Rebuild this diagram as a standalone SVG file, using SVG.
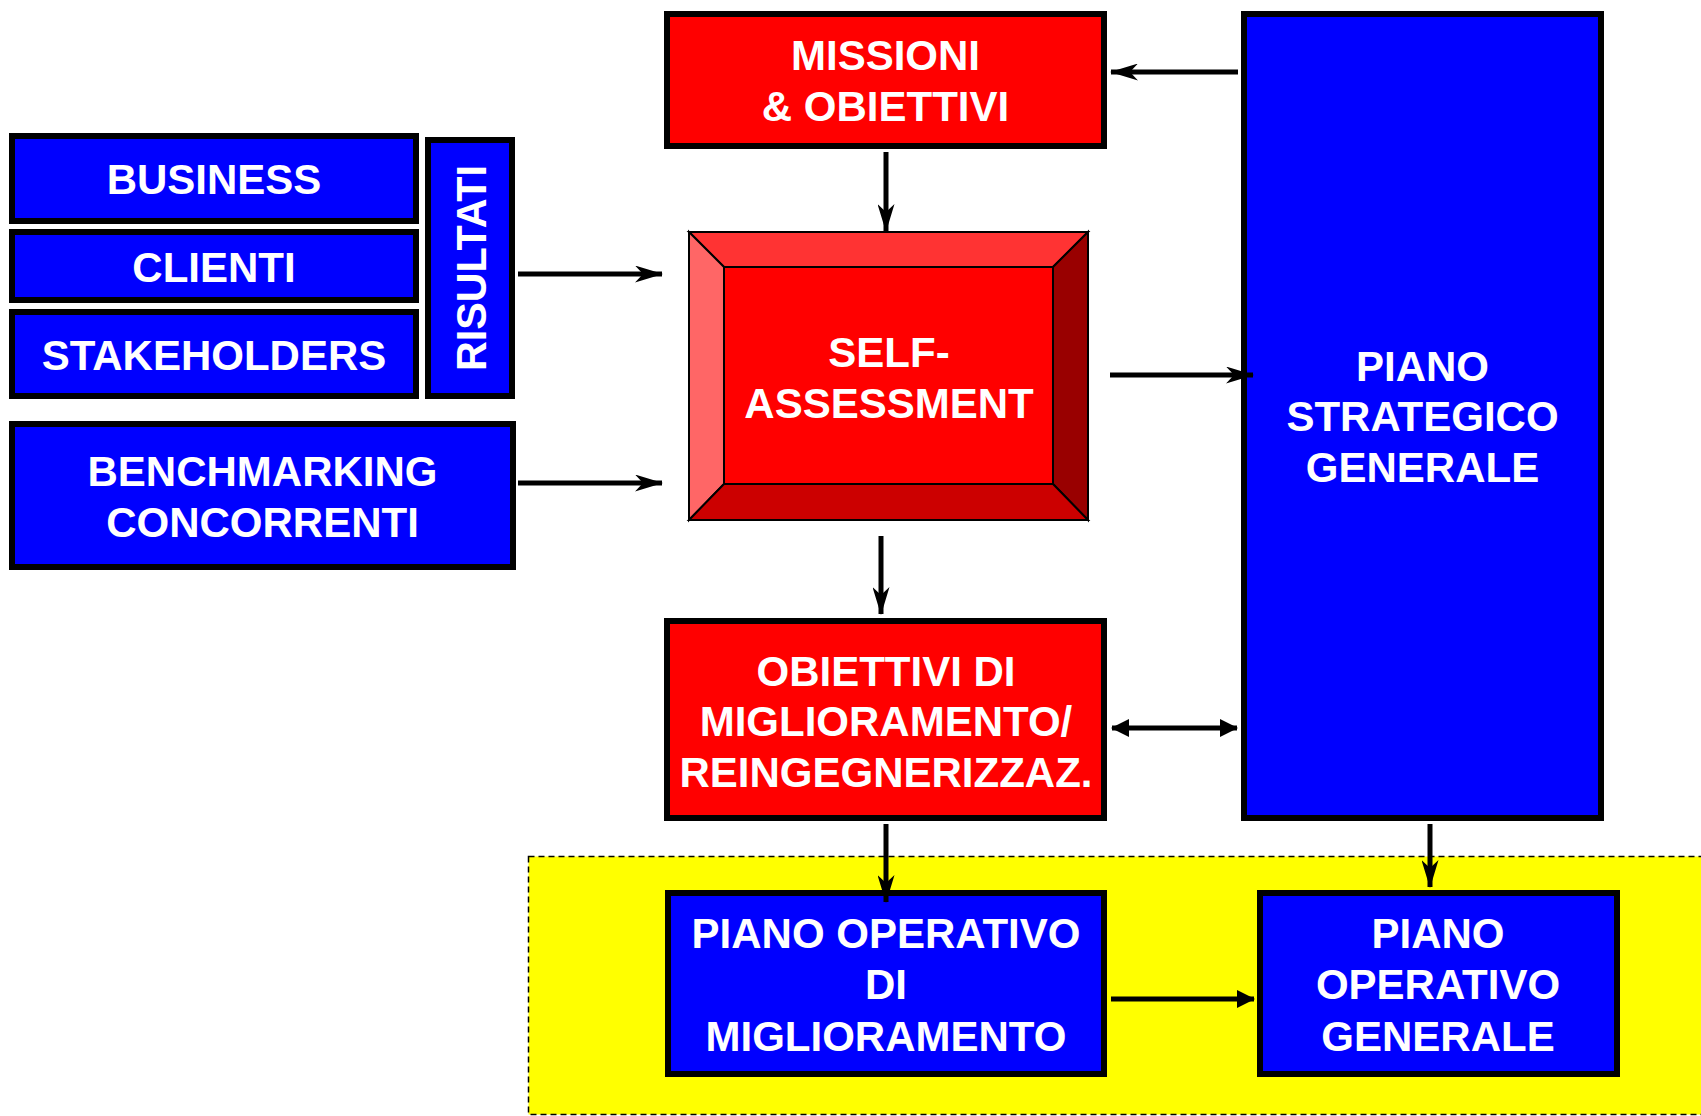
<svg xmlns="http://www.w3.org/2000/svg" width="1701" height="1116" viewBox="0 0 1701 1116">
<style>
  .blue { fill: #0000FF; stroke: #000; stroke-width: 6; }
  .red { fill: #FF0000; stroke: #000; stroke-width: 6; }
  .lbl { font-family: "Liberation Sans", Arial, sans-serif; font-weight: bold; font-size: 42px; fill: #FFFFFF; text-anchor: middle; }
  .conn { stroke: #000; stroke-width: 5; fill: none; }
  .bevel { stroke: #000; stroke-width: 2; }
</style>
<defs>
  <marker id="stealth" markerUnits="userSpaceOnUse" viewBox="0 0 28 17" markerWidth="28" markerHeight="17" refX="27" refY="8.5" orient="auto">
    <path d="M0,0 L28,8.5 L0,17 L8,8.5 Z" fill="#000"/>
  </marker>
  <marker id="tri" markerUnits="userSpaceOnUse" viewBox="0 0 18 18" markerWidth="18" markerHeight="18" refX="17" refY="9" orient="auto-start-reverse">
    <path d="M0,0 L18,9 L0,18 Z" fill="#000"/>
  </marker>
</defs>
<rect width="1701" height="1116" fill="#FFFFFF"/>

<g id="yellow-area">
  <rect x="528.5" y="856.5" width="1200" height="258" fill="#FFFF00" stroke="#000" stroke-width="1.5" stroke-dasharray="6,4"/>
</g>

<g id="business">
  <rect class="blue" x="12" y="136" width="404" height="85"/>
  <text class="lbl" x="214" y="194">BUSINESS</text>
</g>
<g id="clienti">
  <rect class="blue" x="12" y="232" width="404" height="68"/>
  <text class="lbl" x="214" y="282">CLIENTI</text>
</g>
<g id="stakeholders">
  <rect class="blue" x="12" y="312" width="404" height="84"/>
  <text class="lbl" x="214" y="370">STAKEHOLDERS</text>
</g>
<g id="risultati">
  <rect class="blue" x="428" y="140" width="84" height="256"/>
  <text class="lbl" transform="translate(486,268) rotate(-90)" x="0" y="0" textLength="206" lengthAdjust="spacingAndGlyphs">RISULTATI</text>
</g>
<g id="benchmarking">
  <rect class="blue" x="12" y="424" width="501" height="143"/>
  <text class="lbl" x="262.5" y="486">BENCHMARKING</text>
  <text class="lbl" x="262.5" y="537">CONCORRENTI</text>
</g>

<g id="missioni">
  <rect class="red" x="667" y="14" width="437" height="132"/>
  <text class="lbl" x="885.5" y="70">MISSIONI</text>
  <text class="lbl" x="885.5" y="121">&amp; OBIETTIVI</text>
</g>

<g id="self-assessment">
  <rect x="689" y="232" width="399" height="288" fill="#FF0000" stroke="#000" stroke-width="2"/>
  <polygon class="bevel" points="689,232 1088,232 1053,267 724,267" fill="#FF3333"/>
  <polygon class="bevel" points="689,232 724,267 724,484 689,520" fill="#FF6666"/>
  <polygon class="bevel" points="1088,232 1088,520 1053,484 1053,267" fill="#990000"/>
  <polygon class="bevel" points="689,520 724,484 1053,484 1088,520" fill="#CC0000"/>
  <rect x="724" y="267" width="329" height="217" fill="#FF0000" stroke="#000" stroke-width="2"/>
  <text class="lbl" x="889" y="367">SELF-</text>
  <text class="lbl" x="889" y="418">ASSESSMENT</text>
</g>

<g id="piano-strategico">
  <rect class="blue" x="1244" y="14" width="357" height="804"/>
  <text class="lbl" x="1422.5" y="381">PIANO</text>
  <text class="lbl" x="1422.5" y="431">STRATEGICO</text>
  <text class="lbl" x="1422.5" y="482">GENERALE</text>
</g>

<g id="obiettivi-miglioramento">
  <rect class="red" x="667" y="621" width="437" height="197"/>
  <text class="lbl" x="886" y="686">OBIETTIVI DI</text>
  <text class="lbl" x="886" y="736">MIGLIORAMENTO/</text>
  <text class="lbl" x="886" y="787">REINGEGNERIZZAZ.</text>
</g>

<g id="piano-operativo-miglioramento">
  <rect class="blue" x="668" y="893" width="436" height="181"/>
  <text class="lbl" x="886" y="948">PIANO OPERATIVO</text>
  <text class="lbl" x="886" y="999">DI</text>
  <text class="lbl" x="886" y="1051">MIGLIORAMENTO</text>
</g>

<g id="piano-operativo-generale">
  <rect class="blue" x="1260" y="893" width="357" height="181"/>
  <text class="lbl" x="1438" y="948">PIANO</text>
  <text class="lbl" x="1438" y="999">OPERATIVO</text>
  <text class="lbl" x="1438" y="1051">GENERALE</text>
</g>

<g id="connectors">
  <line class="conn" x1="1238" y1="72" x2="1111" y2="72" marker-end="url(#stealth)"/>
  <line class="conn" x1="886" y1="152" x2="886" y2="231" marker-end="url(#stealth)"/>
  <line class="conn" x1="518" y1="274" x2="662" y2="274" marker-end="url(#stealth)"/>
  <line class="conn" x1="518" y1="483" x2="662" y2="483" marker-end="url(#stealth)"/>
  <line class="conn" x1="1110" y1="375" x2="1253" y2="375" marker-end="url(#stealth)"/>
  <line class="conn" x1="881" y1="536" x2="881" y2="614" marker-end="url(#stealth)"/>
  <line class="conn" x1="1112" y1="728" x2="1237" y2="728" marker-start="url(#tri)" marker-end="url(#tri)"/>
  <line class="conn" x1="886" y1="824" x2="886" y2="902" marker-end="url(#stealth)"/>
  <line class="conn" x1="1430" y1="824" x2="1430" y2="887" marker-end="url(#stealth)"/>
  <line class="conn" x1="1111" y1="999" x2="1254" y2="999" marker-end="url(#tri)"/>
</g>
</svg>
